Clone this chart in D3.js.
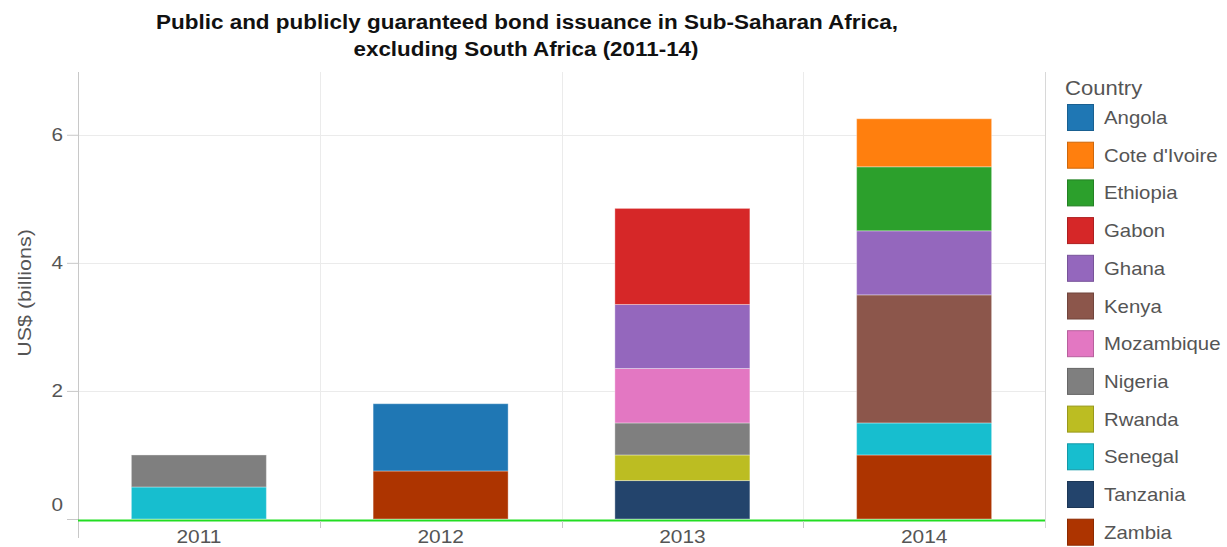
<!DOCTYPE html>
<html>
<head>
<meta charset="utf-8">
<script src="https://cdn.jsdelivr.net/npm/d3@7"></script>
<style>
  body { margin: 0; background: #fff; }
  svg text { font-family: "Liberation Sans", Arial, sans-serif; }
</style>
</head>
<body>
<svg id="chart" width="1227" height="547"></svg>
<script>
// data (US$ billions)
var years = ["2011", "2012", "2013", "2014"];
var countries = ["Angola", "Cote d'Ivoire", "Ethiopia", "Gabon", "Ghana", "Kenya",
                 "Mozambique", "Nigeria", "Rwanda", "Senegal", "Tanzania", "Zambia"];
var colors = ["#1f77b4", "#ff7f0e", "#2ca02c", "#d62728", "#9467bd", "#8c564b",
              "#e377c2", "#7f7f7f", "#bcbd22", "#17becf", "#23446c", "#ad3400"];
var angola     = [0, 1.05, 0, 0];
var coteIvoire = [0, 0, 0, 0.75];
var ethiopia   = [0, 0, 0, 1.0];
var gabon      = [0, 0, 1.5, 0];
var ghana      = [0, 0, 1.0, 1.0];
var kenya      = [0, 0, 0, 2.0];
var mozambique = [0, 0, 0.85, 0];
var nigeria    = [0.5, 0, 0.5, 0];
var rwanda     = [0, 0, 0.4, 0];
var senegal    = [0.5, 0, 0, 0.5];
var tanzania   = [0, 0, 0.6, 0];
var zambia     = [0, 0.75, 0, 1.0];
var yTicks = [0, 2, 4, 6];

var series = [angola, coteIvoire, ethiopia, gabon, ghana, kenya,
              mozambique, nigeria, rwanda, senegal, tanzania, zambia];

// rows for d3.stack
var rows = years.map(function (yr, i) {
    var r = {year: yr};
    countries.forEach(function (c, k) { r[c] = series[k][i]; });
    return r;
});

// the reference text runs wider than Liberation Sans, stretch it along its baseline
function widen(sel, f) {
    sel.each(function () {
        var len = this.getComputedTextLength();
        d3.select(this).attr("textLength", len * f).attr("lengthAdjust", "spacingAndGlyphs");
    });
}

var svg = d3.select("#chart");
var plot = {l: 78, r: 1045, t: 72, b: 519};

var x = d3.scaleBand().domain(years).range([plot.l, plot.r]).paddingInner(0).paddingOuter(0);
var y = d3.scaleLinear().domain([0, 6.98]).range([plot.b, plot.t]);
var color = d3.scaleOrdinal().domain(countries).range(colors);

// title
var t1 = svg.append("text").attr("x", 527).attr("y", 29).attr("text-anchor", "middle")
    .style("font-size", "19.5px").style("font-weight", "bold").attr("fill", "#111")
    .text("Public and publicly guaranteed bond issuance in Sub-Saharan Africa,");
var t2 = svg.append("text").attr("x", 526).attr("y", 56).attr("text-anchor", "middle")
    .style("font-size", "19.5px").style("font-weight", "bold").attr("fill", "#111")
    .text("excluding South Africa (2011-14)");
t1.attr("textLength", 742).attr("lengthAdjust", "spacingAndGlyphs");
t2.attr("textLength", 345).attr("lengthAdjust", "spacingAndGlyphs");

// gridlines
svg.append("g").selectAll("line").data(yTicks.slice(1)).enter().append("line")
    .attr("x1", plot.l).attr("x2", plot.r)
    .attr("y1", function (d) { return Math.round(y(d)) + 0.5; })
    .attr("y2", function (d) { return Math.round(y(d)) + 0.5; })
    .attr("stroke", "#ebebeb").attr("stroke-width", 1);
svg.append("g").selectAll("line").data(years.slice(1)).enter().append("line")
    .attr("x1", function (d) { return Math.round(x(d)) + 0.5; })
    .attr("x2", function (d) { return Math.round(x(d)) + 0.5; })
    .attr("y1", plot.t).attr("y2", plot.b)
    .attr("stroke", "#ebebeb");

// plot frame (left axis + right border)
svg.append("line").attr("x1", plot.l + 0.5).attr("x2", plot.l + 0.5)
    .attr("y1", plot.t).attr("y2", 538).attr("stroke", "#c8c8c8");
svg.append("line").attr("x1", plot.r + 0.5).attr("x2", plot.r + 0.5)
    .attr("y1", plot.t).attr("y2", 528).attr("stroke", "#d8d8d8");

// y axis ticks and labels
var yAxis = svg.append("g").attr("transform", "translate(" + plot.l + ",0)")
    .call(d3.axisLeft(y).tickValues(yTicks).tickSize(11).tickPadding(4).tickFormat(d3.format("d")));
yAxis.select(".domain").remove();
yAxis.selectAll(".tick line").attr("stroke", "#c8c8c8");
yAxis.selectAll(".tick text").style("font-size", "18.5px").attr("fill", "#555")
    .attr("dy", function (d) { return d === 0 ? "-0.45em" : "0.32em"; });
widen(yAxis.selectAll(".tick text"), 1.12);

var yTitle = svg.append("text").attr("transform", "translate(31," + 293 + ") rotate(-90)")
    .attr("text-anchor", "middle").style("font-size", "18.5px").attr("fill", "#555")
    .text("US$ (billions)");
widen(yTitle, 1.16);

// stacked bars: bottom of the stack is the end of the alphabet
var stack = d3.stack().keys(countries.slice().reverse());
var layers = stack(rows);
var barW = 135;

svg.append("g").selectAll("g").data(layers).enter().append("g")
    .attr("fill", function (d) { return color(d.key); })
    .selectAll("rect").data(function (d) { return d; }).enter()
    .filter(function (d) { return d[1] - d[0] > 0; })
    .append("rect")
    .attr("x", function (d) { return x(d.data.year) + (x.bandwidth() - barW) / 2; })
    .attr("width", barW)
    .attr("y", function (d) { return y(d[1]); })
    .attr("height", function (d) { return y(d[0]) - y(d[1]); })
    .attr("stroke", "#ffffff").attr("stroke-opacity", 0.35).attr("stroke-width", 1);

// zero line (green)
svg.append("line").attr("x1", plot.l).attr("x2", plot.r)
    .attr("y1", plot.b + 1.5).attr("y2", plot.b + 1.5)
    .attr("stroke", "#22dd22").attr("stroke-width", 2);

// x axis
var xAxis = svg.append("g").attr("transform", "translate(0," + (plot.b + 2) + ")")
    .call(d3.axisBottom(x).tickSize(0).tickPadding(9));
xAxis.select(".domain").remove();
xAxis.selectAll(".tick text").style("font-size", "18.5px").attr("fill", "#555");
widen(xAxis.selectAll(".tick text"), 1.13);
svg.append("g").selectAll("line").data(years.slice(1)).enter().append("line")
    .attr("x1", function (d) { return Math.round(x(d)) + 0.5; })
    .attr("x2", function (d) { return Math.round(x(d)) + 0.5; })
    .attr("y1", plot.b + 2).attr("y2", plot.b + 9)
    .attr("stroke", "#c8c8c8");

// legend
var legend = svg.append("g").attr("transform", "translate(1064,0)");
var legTitle = legend.append("text").attr("x", 1).attr("y", 95).style("font-size", "19.5px").attr("fill", "#555")
    .text("Country");
widen(legTitle, 1.13);
var item = legend.selectAll(".item").data(countries).enter().append("g")
    .attr("class", "item")
    .attr("transform", function (d, i) { return "translate(0," + (104 + i * 37.7) + ")"; });
item.append("rect").attr("x", 3.5).attr("y", 0.5).attr("width", 26).attr("height", 26)
    .attr("fill", function (d) { return color(d); })
    .attr("stroke", function (d) { return d3.color(color(d)).darker(0.6); });
var legText = item.append("text").attr("x", 40).attr("y", 20).style("font-size", "18.5px").attr("fill", "#555")
    .text(function (d) { return d; });
widen(legText, 1.1);
</script>
</body>
</html>
